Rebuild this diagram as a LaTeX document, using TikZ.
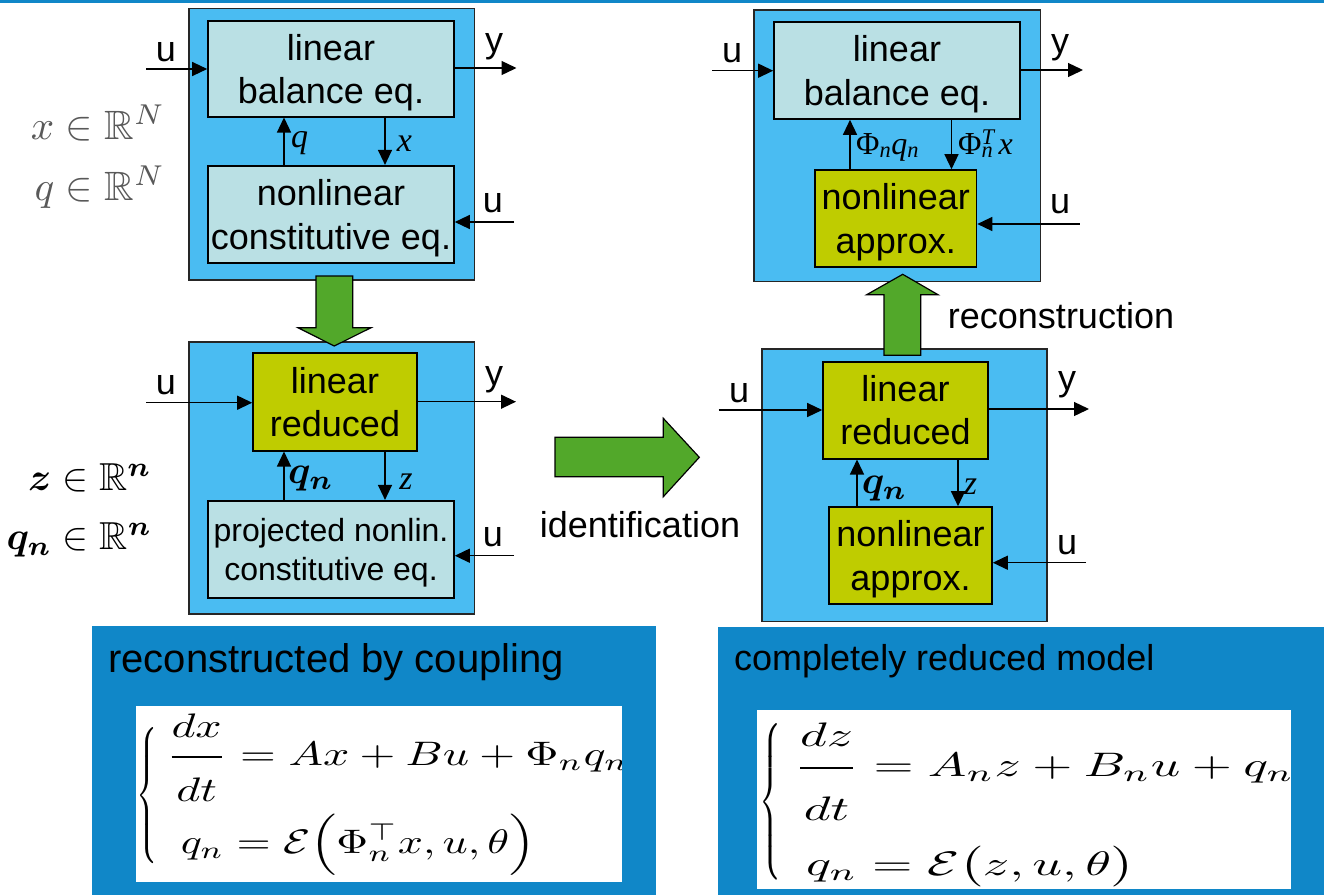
\documentclass[tikz,border=0pt]{standalone}
\usepackage{amsmath,amssymb}
\usepackage{graphicx}
\usepackage{fontspec}
\setsansfont{Liberation Sans}
\newfontfamily\timesfont{Liberation Serif}
\usetikzlibrary{arrows.meta, positioning}

\definecolor{skyblue}{RGB}{74,188,242}
\definecolor{paleblue}{RGB}{186,224,228}
\definecolor{limebox}{RGB}{191,204,0}
\definecolor{leafgreen}{RGB}{82,168,42}
\definecolor{panelblue}{RGB}{16,135,200}

\newcommand{\boxfont}{\sffamily\fontsize{36}{43.3}\selectfont}
\newcommand{\bigmath}[2]{\scalebox{#1}{$#2$}}
\newcommand{\tallbrace}{$\left\{\vcenter{\hbox{\rule{0pt}{40pt}}}\right.$}

\begin{document}
\begin{tikzpicture}[x=1pt, y=-1pt,
    frame/.style={draw=black!85, line width=1.2pt, fill=skyblue, inner sep=0pt},
    box/.style={draw, line width=1.6pt, fill=paleblue, align=center, inner sep=0pt,
                text depth=0pt, font=\boxfont},
    redbox/.style={box, fill=limebox},
    lbl/.style={font=\boxfont, inner sep=0pt},
    var/.style={font=\timesfont\itshape\fontsize{34}{40}\selectfont, inner sep=0pt},
    phi/.style={font=\timesfont\fontsize{32}{36}\selectfont, inner sep=0pt, anchor=base west},
    sig/.style={-{Triangle[length=15pt, width=14pt]}, line width=1.3pt},
    fat/.style={fill=leafgreen, draw=black, line width=1.2pt, line join=miter},
    panel/.style={fill=panelblue, inner sep=0pt, anchor=north west},
    sheet/.style={fill=white, inner sep=0pt, anchor=north west},
    eqrow/.style={inner sep=0pt, anchor=base west}
  ]
  \useasboundingbox (0,0) rectangle (1324,895);
  \fill[panelblue] (0,0) rectangle (1324,2.8);

  % full model
  \node[frame, minimum width=285.5pt, minimum height=271.5pt] (tlframe) at (331.75,144.25) {};
  \node[box, minimum width=246pt, minimum height=96pt] (tlbal) at (331,68.7) {linear\\balance eq.};
  \node[box, minimum width=246pt, minimum height=97.3pt] (tlcons) at (331,214.35) {nonlinear\\constitutive eq.};
  \coordinate (tluin) at (146,69);
  \coordinate (tlyout) at (516.5,68);
  \coordinate (tluback) at (514,222);
  \coordinate (tlq) at (284,142);
  \coordinate (tlx) at (385,142);
  \draw[sig] (tluin) -- (tluin -| tlbal.west);
  \draw[sig] (tlyout -| tlbal.east) -- (tlyout);
  \draw[sig] (tluback) -- (tluback -| tlcons.east);
  \draw[sig] (tlq |- tlcons.north) -- (tlq |- tlbal.south);
  \draw[sig] (tlx |- tlbal.south) -- (tlx |- tlcons.north);
  \node[lbl] (tlulbl) at (166,52) {u};
  \node[lbl] (tlylbl) at (494,47) {y};
  \node[lbl] (tlubacklbl) at (493,203) {u};
  \node[var] (tlqlbl) at (299.5,143) {q};
  \node[var] (tlxlbl) at (404.5,144) {x};
  \node[text=black!65, inner sep=0pt] (xdim) at (98,123) {\bigmath{4.1}{x\in\mathbb{R}^N}};
  \node[text=black!65, inner sep=0pt] (qdim) at (100,187) {\bigmath{4.1}{q\in\mathbb{R}^N}};

  % projected model
  \node[frame, minimum width=285.5pt, minimum height=272pt] (mlframe) at (331.75,478) {};
  \node[redbox, minimum width=164pt, minimum height=97.7pt] (mlred) at (335,401.85) {linear\\reduced};
  \node[box, minimum width=246pt, minimum height=97pt, font=\sffamily\fontsize{32}{38.6}\selectfont]
    (mlproj) at (331,549.2) {projected nonlin.\\constitutive eq.};
  \coordinate (mluin) at (146,402.7);
  \coordinate (mlyout) at (516,401.7);
  \coordinate (mluback) at (514,555.7);
  \coordinate (mlq) at (284,478);
  \coordinate (mlz) at (385,482);
  \draw[sig] (mluin) -- (mluin -| mlred.west);
  \draw[sig] (mlyout -| mlred.east) -- (mlyout);
  \draw[sig] (mluback) -- (mluback -| mlproj.east);
  \draw[sig] (mlq |- mlproj.north) -- (mlq |- mlred.south);
  \draw[sig] (mlz |- mlred.south) -- (mlz |- mlproj.north);
  \node[lbl] (mlulbl) at (166,385) {u};
  \node[lbl] (mlylbl) at (494,380) {y};
  \node[lbl] (mlubacklbl) at (493,537) {u};
  \node[inner sep=0pt] (mlqlbl) at (311,479) {\bigmath{3.9}{\boldsymbol{q_n}}};
  \node[var] (mlzlbl) at (406,482) {z};
  \node[inner sep=0pt] (zdim) at (90,478) {\bigmath{3.9}{\boldsymbol{z}\in\mathbb{R}^{\boldsymbol{n}}}};
  \node[inner sep=0pt] (qndim) at (79.5,540) {\bigmath{3.9}{\boldsymbol{q_n}\in\mathbb{R}^{\boldsymbol{n}}}};

  % reconstructed model
  \node[frame, minimum width=286.5pt, minimum height=271.7pt] (trframe) at (897.25,145.85) {};
  \node[box, minimum width=246pt, minimum height=97pt] (trbal) at (897,70.5) {linear\\balance eq.};
  \node[redbox, minimum width=161.5pt, minimum height=97pt] (trapprox) at (895.75,218.5) {nonlinear\\approx.};
  \coordinate (truin) at (712,70.7);
  \coordinate (tryout) at (1083,70);
  \coordinate (truback) at (1079.5,224);
  \coordinate (trq) at (850,150);
  \coordinate (trx) at (951.5,150);
  \draw[sig] (truin) -- (truin -| trbal.west);
  \draw[sig] (tryout -| trbal.east) -- (tryout);
  \draw[sig] (truback) -- (truback -| trapprox.east);
  \draw[sig] (trq |- trapprox.north) -- (trq |- trbal.south);
  \draw[sig] (trx |- trbal.south) -- (trx |- trapprox.north);
  \node[lbl] (trulbl) at (732,53) {u};
  \node[lbl] (trylbl) at (1060,48) {y};
  \node[lbl] (trubacklbl) at (1060,204) {u};
  \node[phi] (trqlbl) at (856,154) {Φ\textsubscript{\itshape n}\textit{q}\textsubscript{\itshape n}};
  \node[phi] (trxlbl) at (958,154) {Φ\rlap{\textsuperscript{\itshape T}}\textsubscript{\itshape n}\,\textit{x}};

  % identified model
  \node[frame, minimum width=285pt, minimum height=272.7pt] (brframe) at (904.5,485.35) {};
  \node[redbox, minimum width=165pt, minimum height=97pt] (brred) at (905.5,410.2) {linear\\reduced};
  \node[redbox, minimum width=163pt, minimum height=97pt] (brapprox) at (910.5,555.5) {nonlinear\\approx.};
  \coordinate (bruin) at (718.6,410);
  \coordinate (bryout) at (1089,409);
  \coordinate (bruback) at (1086,562.7);
  \coordinate (brq) at (857,489);
  \coordinate (brz) at (958,487);
  \draw[sig] (bruin) -- (bruin -| brred.west);
  \draw[sig] (bryout -| brred.east) -- (bryout);
  \draw[sig] (bruback) -- (bruback -| brapprox.east);
  \draw[sig] (brq |- brapprox.north) -- (brq |- brred.south);
  \draw[sig] (brz |- brred.south) -- (brz |- brapprox.north);
  \node[lbl] (brulbl) at (739,393) {u};
  \node[lbl] (brylbl) at (1067,385) {y};
  \node[lbl] (brubacklbl) at (1067,545) {u};
  \node[inner sep=0pt] (brqlbl) at (884.6,489) {\bigmath{3.9}{\boldsymbol{q_n}}};
  \node[var] (brzlbl) at (970.5,487) {z};

  % big arrows
  \draw[fat] (316,276) -- (352.7,276) -- (352.7,327.7) -- (371,327.7) -- (334.3,346)
    -- (298,327.7) -- (316,327.7) -- cycle;
  \draw[fat] (884,355.3) -- (920.7,355.3) -- (920.7,294.7) -- (938,294.7) -- (902.7,274.3)
    -- (866.7,294.7) -- (884,294.7) -- cycle;
  \draw[fat] (555,437.3) -- (663.3,437.3) -- (663.3,418.3) -- (699.3,457.3) -- (663.3,496.7)
    -- (663.3,476.7) -- (555,476.7) -- cycle;
  \node[lbl] (ident) at (640,525) {identification};
  \node[lbl] (recon) at (1061,316) {reconstruction};

  % equation panels
  \node[panel, minimum width=564pt, minimum height=269pt] (panl) at (92,626) {};
  \node[panel, minimum width=606pt, minimum height=268pt] (panr) at (718,627) {};
  \node[anchor=base west, inner sep=0pt, font=\sffamily\fontsize{40}{48}\selectfont]
    (titlel) at (108,672.7) {reconstructed by coupling};
  \node[anchor=base west, inner sep=0pt, font=\sffamily\fontsize{36}{43}\selectfont]
    (titler) at (734,670) {completely reduced model};
  \node[sheet, minimum width=486pt, minimum height=176pt] (sheetl) at (135.5,706) {};
  \node[sheet, minimum width=534pt, minimum height=179pt] (sheetr) at (757,710) {};
  \begin{scope}
    \clip (sheetl.north west) rectangle (sheetl.south east);
    \node[inner sep=0pt, anchor=north west] (bracel) at (136,727) {\resizebox*{24pt}{136pt}{\tallbrace}};
    \node[eqrow] (eql1) at (165.8,765.5)
      {\scalebox{4.6}[3.4]{$\displaystyle\frac{dx\rule[-4.2pt]{0pt}{4.2pt}}{\rule{0pt}{11.8pt}dt}=Ax+Bu+\Phi_nq_n$}};
    \node[eqrow] (eql2) at (180.6,853)
      {\scalebox{4.4}[3.4]{$q_n=\mathcal{E}\Big(\Phi_n^{\top}x,u,\theta\Big)$}};
  \end{scope}
  \begin{scope}
    \clip (sheetr.north west) rectangle (sheetr.south east);
    \node[inner sep=0pt, anchor=north west] (bracer) at (759,723) {\resizebox*{25pt}{157pt}{\tallbrace}};
    \node[eqrow] (eqr1) at (793.7,776.5)
      {\scalebox{5.15}[3.4]{$\displaystyle\frac{dz\rule[-4.9pt]{0pt}{4.9pt}}{\rule{0pt}{13.9pt}dt}=A_nz+B_nu+q_n$}};
    \node[eqrow] (eqr2) at (806,875)
      {\scalebox{5.2}[3.4]{$q_n=\mathcal{E}\big(z,u,\theta\big)$}};
  \end{scope}
\end{tikzpicture}
\end{document}
